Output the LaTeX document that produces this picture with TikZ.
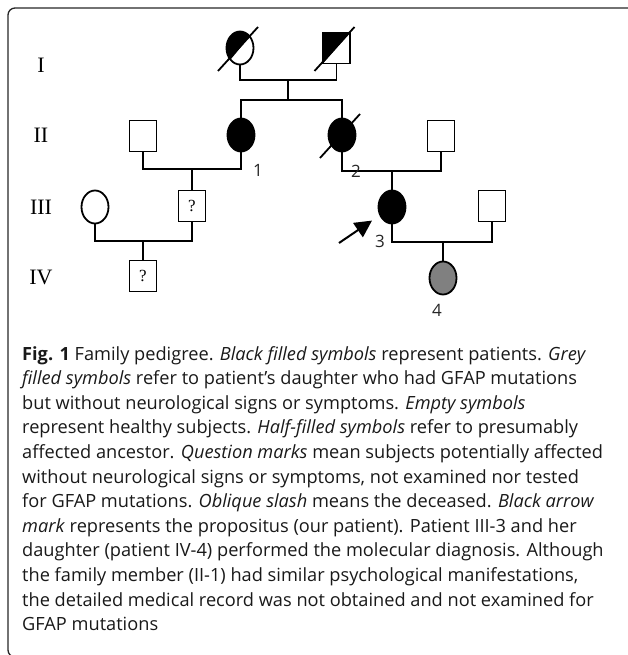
\documentclass[tikz,border=0pt]{standalone}
\usepackage{fontspec}
\setmainfont{Open Sans}
\newfontfamily\romanfont{Liberation Serif}
\usepackage{tikz}
\usetikzlibrary{arrows.meta,shapes.geometric,calc}

\begin{document}
\begin{tikzpicture}[
    x=1pt, y=-1pt,
    person/.style={draw, line width=1.8pt, inner sep=0pt},
    female/.style={person, ellipse, minimum width=27pt, minimum height=33pt},
    male/.style={person, rectangle, minimum width=27pt, minimum height=31pt,
        font=\romanfont\fontsize{17}{17}\selectfont},
    patient/.style={fill=black},
    carrier/.style={fill=black!50},
    halffill/.style={path picture={\fill (path picture bounding box.south west)
        -- (path picture bounding box.north east)
        -- (path picture bounding box.north west) -- cycle;}},
    line/.style={line width=1.8pt},
    slash/.style={line width=1.8pt},
    gen/.style={font=\romanfont\fontsize{22}{22}\selectfont},
    idlabel/.style={font=\fontsize{17}{17}\selectfont, text=black!85, inner sep=0pt},
    proband/.style={-{Triangle[length=17pt,width=17pt]}, line width=2pt, shorten >=9pt},
    caption/.style={align=left, inner sep=0pt, text=black!90,
        font=\fontsize{18.2}{24.6}\selectfont},
    framebox/.style={line width=1.3pt, rounded corners=7pt, draw=black!85}
]
    \useasboundingbox (0,0) rectangle (627,655);
    \draw[framebox] (640,8) -- (8,8) -- (8,657) -- (30,657);

    \node[gen] (gI) at (41,65) {I};
    \node[gen] (gII) at (41,135) {II};
    \node[gen] (gIII) at (41,207) {III};
    \node[gen] (gIV) at (41,277) {IV};

    \node[female, halffill] (i1) at (240,48) {};
    \node[male, halffill] (i2) at (336.5,48) {};

    \node[male] (ii1) at (143,136) {};
    \node[female, patient] (ii2) at (241,135) {};
    \node[female, patient] (ii3) at (342,135) {};
    \node[male] (ii4) at (441,136) {};

    \node[female] (iii1) at (95,207) {};
    \node[male] (iii2) at (192,206) {?};
    \node[female, patient] (iii3) at (392,207) {};
    \node[male] (iii4) at (492,206) {};

    \node[male] (iv1) at (143,276) {?};
    \node[female, carrier] (iv2) at (443,278) {};

    \foreach \p in {i1,i2,ii3}
        \draw[slash] ($(\p.center)+(-22,23)$) -- ($(\p.center)+(18,-21)$);

    \coordinate (m1) at (288,80);
    \coordinate (s1) at (288,100);
    \coordinate (m2) at (192,169);
    \coordinate (m3) at (392,171);
    \coordinate (m4) at (143,241);
    \coordinate (m5) at (443,242);

    \draw[line] (i1.south) |- (m1) -| (i2.south);
    \draw[line] (m1) -- (s1);
    \draw[line] (ii2.north) |- (s1) -| (ii3.north);
    \draw[line] (ii1.south) |- (m2) -| (ii2.south);
    \draw[line] (m2) -- (iii2.north);
    \draw[line] (ii3.south) |- (m3) -| (ii4.south);
    \draw[line] (m3) -- (iii3.north);
    \draw[line] (iii1.south) |- (m4) -| (iii2.south);
    \draw[line] (m4) -- (iv1.north);
    \draw[line] (iii3.south) |- (m5) -| (iii4.south);
    \draw[line] (m5) -- (iv2.north);

    \node[idlabel] (l1) at (258,170) {1};
    \node[idlabel] (l2) at (356,171) {2};
    \node[idlabel] (l3) at (380,241) {3};
    \node[idlabel] (l4) at (437,310) {4};

    \coordinate (arrtail) at (339,243);
    \draw[proband] (arrtail) -- (iii3);

    \node[caption, anchor=north west] (cap) at (22,346) {\textbf{Fig. 1} Family pedigree. \textit{Black filled symbols} represent patients. \textit{Grey}\\
\textit{filled symbols} refer to patient’s daughter who had GFAP mutations\\
but without neurological signs or symptoms. \textit{Empty symbols}\\
represent healthy subjects. \textit{Half-filled symbols} refer to presumably\\
affected ancestor. \textit{Question marks} mean subjects potentially affected\\
without neurological signs or symptoms, not examined nor tested\\
for GFAP mutations. \textit{Oblique slash} means the deceased. \textit{Black arrow}\\
\textit{mark} represents the propositus (our patient). Patient III-3 and her\\
daughter (patient IV-4) performed the molecular diagnosis. Although\\
the family member (II-1) had similar psychological manifestations,\\
the detailed medical record was not obtained and not examined for\\
GFAP mutations};
\end{tikzpicture}
\end{document}
